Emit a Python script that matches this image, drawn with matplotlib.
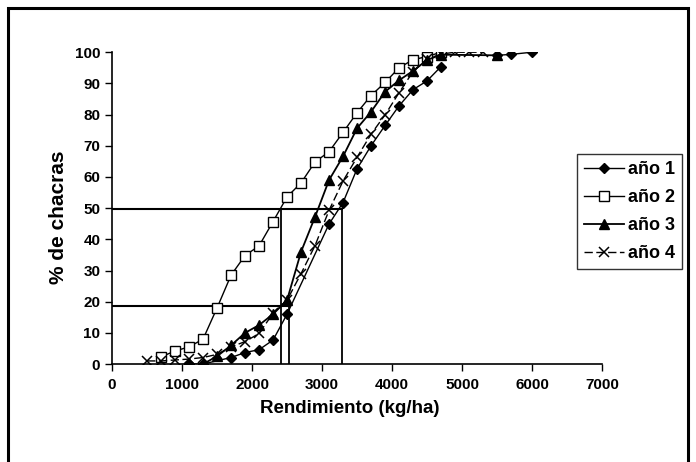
import numpy as np
import matplotlib
matplotlib.use("Agg")
import matplotlib.pyplot as plt
from matplotlib.patches import Rectangle

plt.rcParams['font.family'] = ['Liberation Sans', 'DejaVu Sans']
plt.rcParams['font.weight'] = 'bold'

nan = np.nan

# rendimiento (kg/ha) and cumulative % de chacras
x1 = [1100, 1300, 1700, 1900, 2100, 2300, 2500, 3100, 3300, 3500, 3700, 3900,
      4100, 4300, 4500, 4700, 4900, 5500, 5700, 6000]
y1 = [0, 0, 2.1, 3.7, 4.6, 7.7, 16.0, 44.9, 51.8, 62.6, 70.0, 76.5,
      82.8, 88.0, 90.8, 95.4, nan, 99.0, 99.3, 100.0]

x2 = [700, 900, 1100, 1300, 1500, 1700, 1900, 2100, 2300, 2500, 2700, 2900,
      3100, 3300, 3500, 3700, 3900, 4100, 4300, 4500, 4700]
y2 = [2.3, 4.2, 5.5, 8.0, 18.0, 28.5, 34.8, 37.9, 45.7, 53.6, 58.1, 64.8,
      68.1, 74.3, 80.6, 86.1, 90.3, 95.0, 97.6, 98.6, 100.0]

x3 = [1300, 1500, 1700, 1900, 2100, 2300, 2500, 2700, 2900, 3100, 3300, 3500,
      3700, 3900, 4100, 4300, 4500, 4700, 5500]
y3 = [0, 2.5, 6.0, 10.0, 12.5, 16.0, 20.5, 36.0, 47.2, 59.0, 66.6, 75.6,
      80.9, 87.3, 91.0, 94.0, 97.5, 99.2, 99.0]

x4 = [500, 700, 900, 1100, 1300, 1500, 1700, 1900, 2100, 2300, 2500, 2700,
      2900, 3100, 3300, 3500, 3700, 3900, 4100, 4300, 4500, 4700, 4900, 5100, 5300]
y4 = [1.0, 1.0, 1.3, 1.6, 2.1, 3.1, 5.5, 7.2, 9.8, 16.3, 20.5, 29.0,
      38.0, 49.3, 58.7, 66.3, 73.7, 79.9, 87.0, 93.8, 97.8, 99.4, 100, 100, 100]

# reference lines (50 % and ~19 % readings)
h_lines = [(49.6, 3281), (18.7, 2533)]
v_lines = [(2414, 49.6), (2533, 18.7), (3281, 49.6)]

fig = plt.figure(figsize=(6.96, 4.62), dpi=100)
ax = fig.add_axes([0.161, 0.212, 0.704, 0.675])

ax.plot(x1, y1, color='black', lw=1.0, marker='D', ms=4.8, mfc='black', label='año 1', zorder=4)
ax.plot(x2, y2, color='black', lw=1.0, marker='s', ms=7, mfc='white', mew=1.0, label='año 2', zorder=3)
ax.plot(x3, y3, color='black', lw=1.3, marker='^', ms=7, mfc='black', label='año 3', zorder=5)
ax.plot(x4, y4, color='black', lw=1.0, ls=(0, (6, 2.5)), marker='x', ms=7.5, mew=1.1,
        label='año 4', zorder=4)

for yv, xe in h_lines:
    ax.plot([0, xe], [yv, yv], color='black', lw=1.5, zorder=2)
for xv, ye in v_lines:
    ax.plot([xv, xv], [0, ye], color='black', lw=1.3, zorder=2)

ax.set_xlim(0, 7000)
ax.set_ylim(0, 100)
ax.set_xticks(range(0, 7001, 1000))
ax.set_yticks(range(0, 101, 10))
for s in ['top', 'right']:
    ax.spines[s].set_visible(False)
for s in ['left', 'bottom']:
    ax.spines[s].set_linewidth(1.2)
ax.tick_params(direction='out', length=5, width=1.0, labelsize=11)
for lab in ax.get_xticklabels() + ax.get_yticklabels():
    lab.set_fontweight('bold')
ax.tick_params(axis='x', pad=5)

ax.set_xlabel('Rendimiento (kg/ha)', fontsize=13.5, fontweight='bold')
ax.xaxis.set_label_coords((350 - 112) / 490, -0.115)
ax.set_ylabel('% de chacras', fontsize=15, fontweight='bold')
ax.yaxis.set_label_coords(-0.09, 0.47)

leg = ax.legend(loc='upper left', bbox_to_anchor=(0.949, 0.673), frameon=True, fancybox=False,
                edgecolor='black', fontsize=13, handlelength=2.2, handletextpad=0.2,
                borderpad=0.4, labelspacing=0.6, borderaxespad=0)
leg.get_frame().set_linewidth(1.0)
for t in leg.get_texts():
    t.set_fontweight('bold')

# outer frame of the chart
fig.patches.append(Rectangle((0.012, -0.1), 0.977, 1.082, transform=fig.transFigure,
                             fill=False, edgecolor='black', lw=2.2))

fig.savefig('out.png', dpi=100)
